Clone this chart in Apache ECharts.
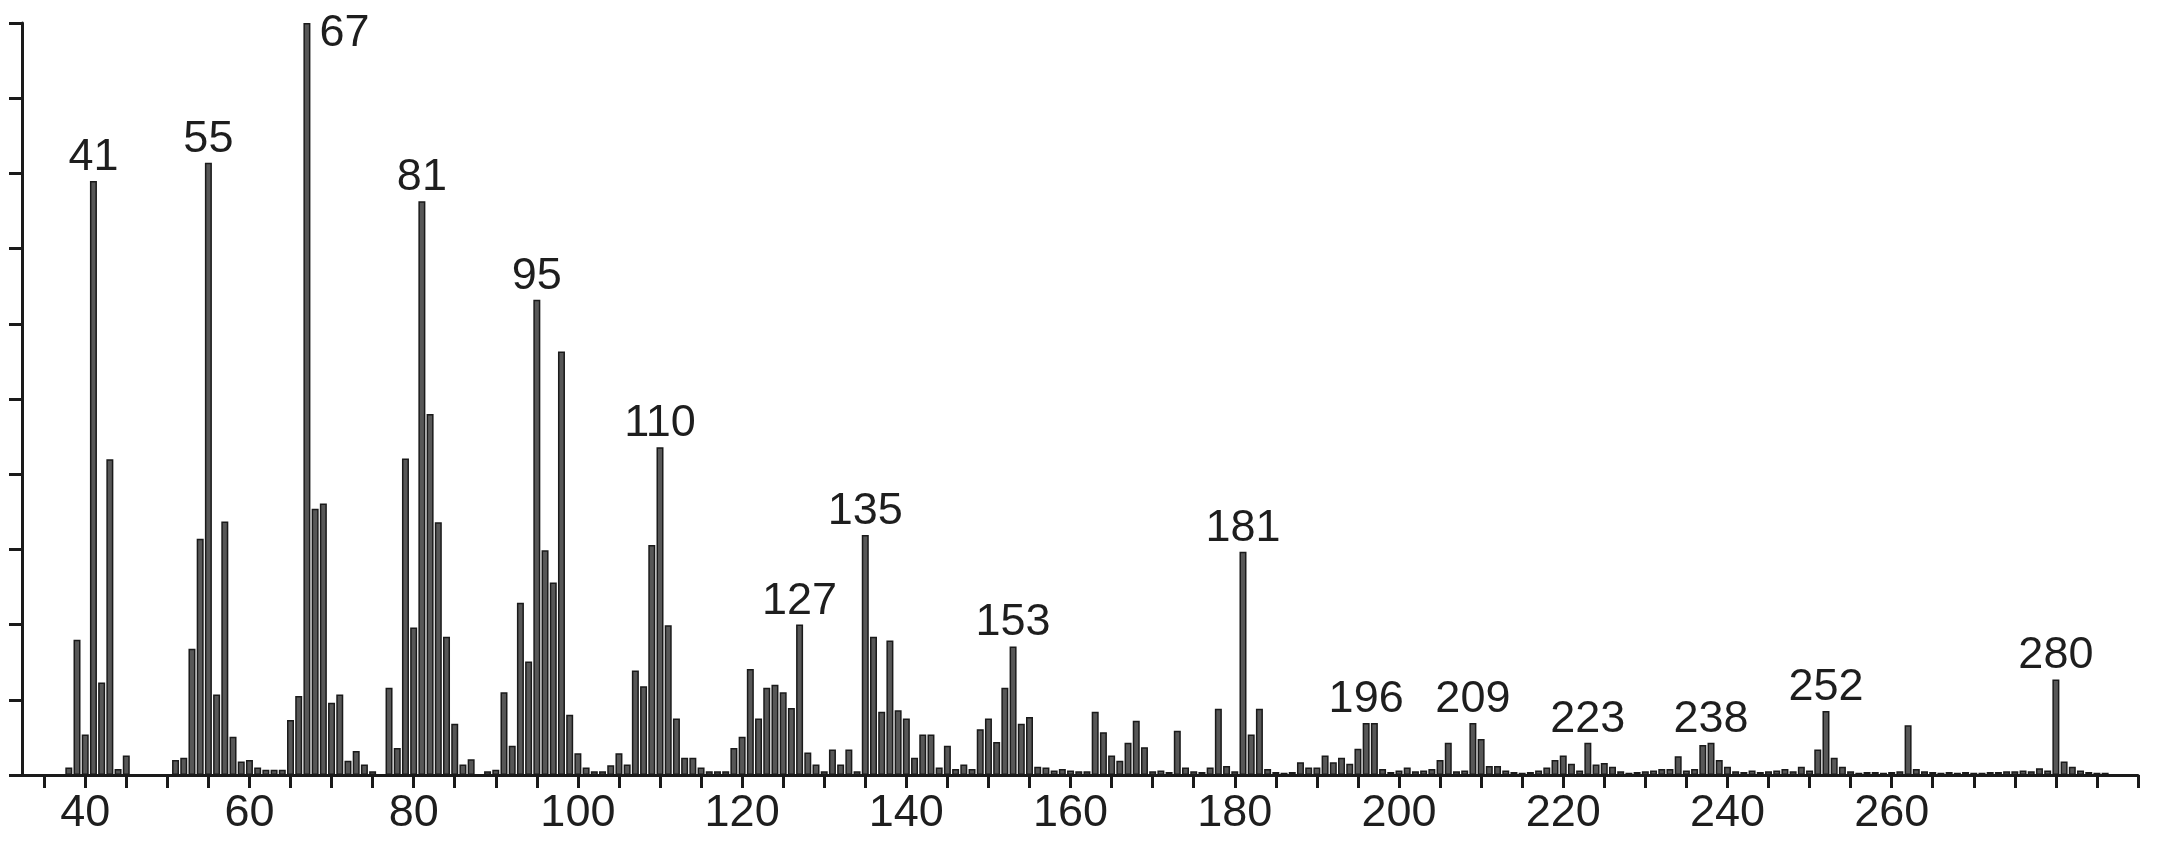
<!DOCTYPE html>
<html>
<head>
<meta charset="utf-8">
<script src="https://cdn.jsdelivr.net/npm/echarts@6/dist/echarts.min.js"></script>
<style>
html,body{margin:0;padding:0;background:#fff;}
#chart{width:2158px;height:846px;}
</style>
</head>
<body>
<div id="chart"></div>
<script>
// m/z values and relative intensities (%)
const masses = [
  38,39,40,41,42,43,44,45,
  51,52,53,54,55,56,57,58,59,60,61,62,63,64,65,66,67,68,69,70,71,72,73,74,75,
  77,78,79,80,81,82,83,84,85,86,87,
  89,90,91,92,93,94,95,96,97,98,99,100,101,102,103,
  104,105,106,107,108,109,110,111,112,113,114,115,116,117,118,
  119,120,121,122,123,124,125,126,127,128,129,130,131,132,133,134,
  135,136,137,138,139,140,141,142,143,144,145,146,147,148,
  149,150,151,152,153,154,155,156,157,158,159,160,161,162,
  163,164,165,166,167,168,169,170,171,172,
  173,174,175,176,177,178,179,180,181,182,183,184,185,186,187,
  188,189,190,191,192,193,194,195,196,197,198,199,200,201,202,203,204,205,206,207,208,
  209,210,211,212,213,214,215,216,217,218,219,220,221,222,223,224,225,226,227,228,229,230,
  231,232,233,234,235,236,237,238,239,240,241,242,243,244,245,246,247,248,249,250,
  251,252,253,254,255,256,257,258,259,260,261,262,263,264,265,266,267,268,269,270,
  271,272,273,274,275,276,277,278,279,280,281,282,283,284,285,286
];
const intensities = [
  1,18,5.4,79,12.3,42,0.8,2.6,
  2,2.3,16.8,31.4,81.4,10.7,33.7,5.1,1.8,2,1,0.7,0.7,0.7,7.3,10.5,100,35.4,36.1,9.6,10.7,1.9,3.2,1.4,0.5,
  11.6,3.6,42.1,19.6,76.3,48,33.6,18.4,6.8,1.4,2.1,
  0.5,0.7,11,3.9,22.9,15.1,63.2,29.9,25.6,56.3,8,2.9,1,0.5,0.5,
  1.3,2.9,1.4,13.9,11.8,30.6,43.6,19.9,7.5,2.3,2.3,1,0.5,0.5,0.5,
  3.6,5.1,14.1,7.5,11.6,12,11,8.9,20,3,1.4,0.5,3.4,1.4,3.4,0.5,
  31.9,18.4,8.4,17.9,8.6,7.5,2.3,5.4,5.4,1,3.9,0.8,1.4,0.8,
  6.1,7.5,4.4,11.6,17.1,6.8,7.7,1.1,1,0.6,0.8,0.6,0.5,0.5,
  8.4,5.7,2.6,1.9,4.3,7.2,3.7,0.5,0.6,0.4,
  5.9,1,0.5,0.4,1,8.8,1.2,0.5,29.7,5.4,8.8,0.8,0.4,0.3,0.4,
  1.7,1,1,2.6,1.7,2.3,1.5,3.5,6.9,6.9,0.8,0.4,0.6,1,0.5,0.6,0.8,2,4.3,0.5,0.6,
  6.9,4.8,1.2,1.2,0.6,0.4,0.3,0.4,0.6,1,2,2.6,1.5,0.6,4.3,1.4,1.6,1.1,0.5,0.3,0.4,0.5,
  0.6,0.8,0.8,2.5,0.6,0.8,4,4.3,2,1.1,0.5,0.4,0.6,0.4,0.5,0.6,0.8,0.5,1.1,0.6,
  3.4,8.5,2.3,1.1,0.5,0.3,0.4,0.4,0.3,0.4,0.5,6.6,0.8,0.5,0.4,0.3,0.4,0.3,0.4,0.3,
  0.3,0.4,0.4,0.5,0.5,0.6,0.5,0.9,0.6,12.7,1.8,1.1,0.6,0.4,0.3,0.3
];
// peaks that carry an m/z annotation
const labeledPeaks = [41,55,67,81,95,110,127,135,153,181,196,209,223,238,252,280];
// axis ticks and tick labels
const xTickLabels = [40,60,80,100,120,140,160,180,200,220,240,260];
const xTicks = [35,40,45,50,55,60,65,70,75,80,85,90,95,100,105,110,115,120,125,130,135,140,145,150,155,160,165,170,175,180,185,190,195,200,205,210,215,220,225,230,235,240,245,250,255,260,265,270,275,280,285,290];

const FONT = "'Liberation Sans', Arial, Helvetica, sans-serif";
const INK = '#1a1a1a';

const barData = masses.map((m, i) => {
  const item = { value: [m, intensities[i]] };
  if (labeledPeaks.indexOf(m) >= 0) {
    if (m === 67) {
      item.label = { show: true, position: [16, -12], align: 'left', verticalAlign: 'top' };
    } else {
      item.label = { show: true };
    }
  }
  return item;
});

const chart = echarts.init(document.getElementById('chart'), null, { renderer: 'canvas' });
chart.setOption({
  animation: false,
  backgroundColor: '#ffffff',
  grid: { left: 22, right: 20, top: 23, bottom: 71, containLabel: false },
  xAxis: {
    type: 'value',
    min: 32.3,
    max: 290,
    axisLine: { show: true, onZero: false, lineStyle: { color: INK, width: 3 } },
    axisTick: { show: true, inside: false, length: 13, customValues: xTicks, lineStyle: { color: INK, width: 3 } },
    axisLabel: { show: true, customValues: xTickLabels, margin: 16, color: '#1e1e1e', fontSize: 45, fontFamily: FONT },
    splitLine: { show: false }
  },
  yAxis: {
    type: 'value',
    min: 0,
    max: 100,
    interval: 10,
    axisLine: { show: true, lineStyle: { color: INK, width: 3 } },
    axisTick: { show: true, inside: false, length: 13, lineStyle: { color: INK, width: 3 } },
    axisLabel: { show: false },
    splitLine: { show: false }
  },
  series: [{
    type: 'bar',
    data: barData,
    barWidth: 7,
    itemStyle: { color: '#575757', borderColor: '#1a1a1a', borderWidth: 1.5 },
    label: {
      show: false,
      position: 'top',
      distance: 1,
      color: '#1e1e1e',
      fontSize: 45,
      fontFamily: FONT,
      formatter: p => String(p.value[0])
    }
  }]
});
</script>
</body>
</html>
